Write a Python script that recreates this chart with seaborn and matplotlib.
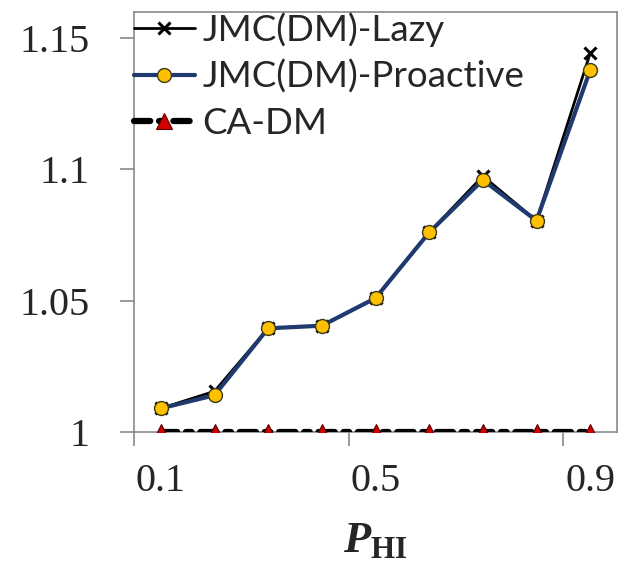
import matplotlib
matplotlib.use("Agg")
import matplotlib.pyplot as plt
import seaborn as sns
import numpy as np
from matplotlib.ticker import FixedLocator, NullFormatter, FixedFormatter

x_vals = [0.1, 0.2, 0.3, 0.4, 0.5, 0.6, 0.7, 0.8, 0.9]
lazy = [1.009, 1.0155, 1.0395, 1.0405, 1.051, 1.076, 1.0975, 1.0805, 1.1443]
proactive = [1.009, 1.014, 1.0395, 1.0405, 1.051, 1.076, 1.096, 1.0805, 1.1378]
cadm = [1.0, 1.0, 1.0, 1.0, 1.0, 1.0, 1.0, 1.0, 1.0]
x_tick_labels = ["0.1", "0.5", "0.9"]
y_ticks = [1.0, 1.05, 1.1, 1.15]
y_tick_labels = ["1", "1.05", "1.1", "1.15"]
series_names = ["JMC(DM)-Lazy", "JMC(DM)-Proactive", "CA-DM"]

sns.set_style("white")
plt.rcParams['mathtext.fontset'] = 'custom'
plt.rcParams['mathtext.rm'] = 'Liberation Serif'
plt.rcParams['mathtext.bf'] = 'Liberation Serif:bold'
plt.rcParams['mathtext.it'] = 'Liberation Serif:italic'
plt.rcParams['mathtext.bfit'] = 'Liberation Serif:bold:italic'

fig = plt.figure(figsize=(6.21, 5.62), dpi=100)
ax = fig.add_axes([134/621, 1-432/562, (617-134)/621, (432-12)/562])

sns.lineplot(x=x_vals, y=lazy, ax=ax, color="black", lw=2, marker="x",
             markersize=8, markeredgewidth=2.2, markeredgecolor="black",
             label=series_names[0], zorder=3)
sns.lineplot(x=x_vals, y=proactive, ax=ax, color="#1F3A6E", lw=3, marker="o",
             markersize=10, markerfacecolor="#FFC000", markeredgecolor="#3a3a1a",
             markeredgewidth=1, label=series_names[1], zorder=4)
sns.lineplot(x=x_vals, y=cadm, ax=ax, color="black", lw=4.5, marker="^",
             markersize=11.5, markerfacecolor="#D00000", markeredgecolor="#5a0000",
             markeredgewidth=0.8, label=series_names[2], zorder=5)
ln = ax.lines[-1]
ln.set_dashes([2.6, 1.4, 0.9, 1.4])
ln.set_dash_capstyle('round')

ax.set_xlim(0.05, 0.95)
ax.set_ylim(1.0, 1.16)

# x ticks: marks at category boundaries, labels at categories
ax.xaxis.set_major_locator(FixedLocator([0.05, 0.45, 0.85]))
ax.xaxis.set_major_formatter(NullFormatter())
ax.xaxis.set_minor_locator(FixedLocator([0.1, 0.5, 0.9]))
ax.xaxis.set_minor_formatter(FixedFormatter(x_tick_labels))
ax.tick_params(axis='x', which='major', length=10, width=1.2, color="#8a8a8a",
               direction='out', bottom=True)
ax.tick_params(axis='x', which='minor', length=0, pad=22, labelsize=29,
               labelfontfamily="Liberation Serif", bottom=True)

ax.set_yticks(y_ticks)
ax.set_yticklabels(y_tick_labels, fontfamily="Liberation Serif", fontsize=29)
ax.tick_params(axis='y', which='major', length=10, width=1.2, color="#8a8a8a",
               direction='out', left=True, pad=22)

for s in ax.spines.values():
    s.set_color("#8a8a8a")
    s.set_linewidth(1.2)

ax.set_xlabel(r'$\mathbfit{P}_{\mathbf{HI}}$', fontsize=32, labelpad=13)

leg = ax.legend(loc='upper left', bbox_to_anchor=(0, 1.0), frameon=False,
                prop={'family': 'Lato', 'size': 26.5}, handlelength=1.65,
                handletextpad=0.2, labelspacing=0.36, borderaxespad=0,
                borderpad=0.0)

fig.savefig("out.png", dpi=100)
